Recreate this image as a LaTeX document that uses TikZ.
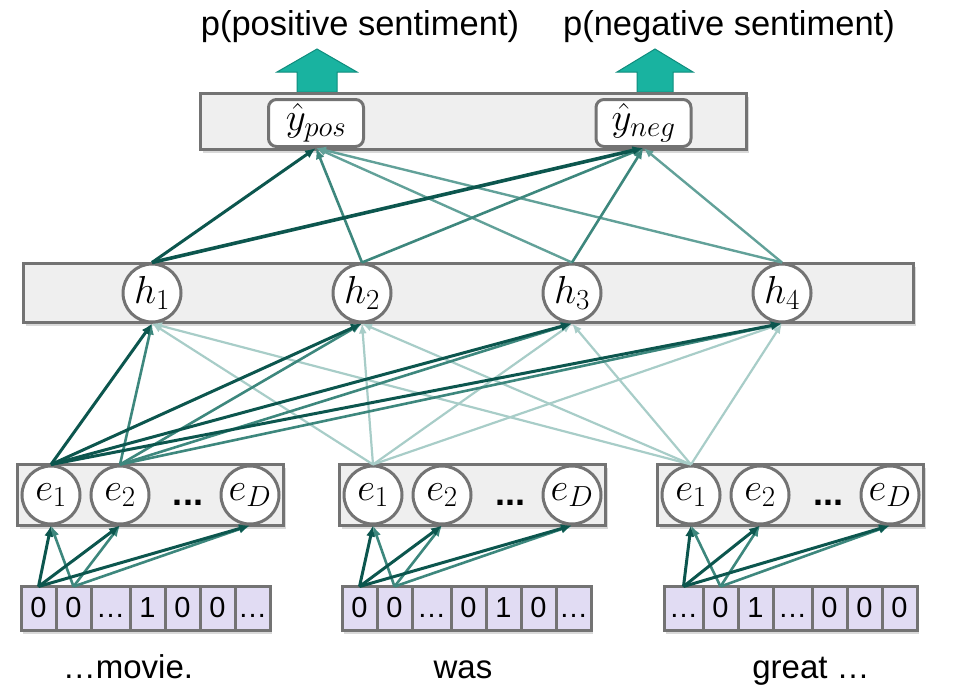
\RequirePackage{fix-cm}
\documentclass[tikz,border=0pt]{standalone}
\usepackage[no-math]{fontspec}
\setmainfont{Liberation Sans}
\usetikzlibrary{arrows.meta,shadows}

\definecolor{rim}{HTML}{737373}
\definecolor{panefill}{HTML}{EFEFEF}
\definecolor{cellfill}{HTML}{E1DCF3}
\definecolor{blockfill}{HTML}{19B3A0}
\definecolor{blockrim}{HTML}{0F8C7D}
\definecolor{wdark}{HTML}{0C564E}
\definecolor{wmid}{HTML}{3D877D}
\definecolor{wsoft}{HTML}{62A199}
\definecolor{wlight}{HTML}{A8CDC8}

\DeclareMathSizes{39}{39}{29}{22}
\newcommand\ttlfnt{\fontsize{34.5}{40}\selectfont}
\newcommand\wordfnt{\fontsize{33}{38}\selectfont}
\newcommand\cellfnt{\fontsize{29}{34}\selectfont}
\newcommand\mathfnt{\fontsize{39}{44}\selectfont}
\newcommand\dotfnt{\fontsize{36}{40}\selectfont\bfseries}

\begin{document}
\begin{tikzpicture}[x=1pt, y=-1pt,
    pane/.style={draw=rim, line width=3pt, fill=panefill, inner sep=0pt, outer sep=0pt,
        drop shadow={shadow xshift=2pt, shadow yshift=-3pt, opacity=0.3}},
    neuron/.style={circle, draw=rim, line width=3pt, fill=white, minimum size=58pt, inner sep=0pt, font=\mathfnt},
    outbox/.style={draw=rim, line width=3pt, fill=white, rounded corners=8pt, minimum width=95pt, minimum height=47pt, inner sep=0pt, font=\mathfnt},
    onehot/.style={draw=rim, line width=3pt, fill=cellfill, minimum width=35pt, minimum height=44pt, inner sep=0pt, outer sep=0pt,
        text height=20pt, text depth=3pt, font=\cellfnt,
        drop shadow={shadow xshift=2pt, shadow yshift=-3pt, opacity=0.3}},
    dotcell/.style={onehot, minimum width=39pt},
    blockup/.style={fill=blockfill, draw=blockrim, line width=1pt},
    wdk/.style={color=wdark, line width=3pt, -{Latex[length=11pt,width=9pt]}},
    wmd/.style={color=wmid, line width=2.6pt, -{Latex[length=11pt,width=9pt]}},
    wsf/.style={color=wsoft, line width=2.4pt, -{Latex[length=10pt,width=8pt]}},
    wlt/.style={color=wlight, line width=2.2pt, -{Latex[length=10pt,width=8pt]}}]

    \useasboundingbox (0,0) rectangle (960,688);

    % output layer
    \node [font=\ttlfnt, anchor=base] (ppos) at (360,35) {p(positive sentiment)};
    \node [font=\ttlfnt, anchor=base] (pneg) at (729,35) {p(negative sentiment)};
    \coordinate (apos) at (317,92);
    \coordinate (aneg) at (655,92);
    \draw [blockup] (apos) ++(-20,0) -- ++(0,-20) -- ++(-20,0) -- ++(40,-23) -- ++(40,23) -- ++(-20,0) -- ++(0,20) -- cycle;
    \draw [blockup] (aneg) ++(-18,0) -- ++(0,-20) -- ++(-20,0) -- ++(38,-23) -- ++(38,23) -- ++(-20,0) -- ++(0,20) -- cycle;
    \node [pane, minimum width=546pt, minimum height=56pt] (top) at (473.5,121.5) {};
    \node [outbox] (ypos) at (316,123) {$\hat{y}_{pos}$};
    \node [outbox] (yneg) at (643.5,123) {$\hat{y}_{neg}$};

    % hidden layer
    \node [pane, minimum width=890pt, minimum height=59pt] (hid) at (468.5,293) {};
    \node [neuron] (h1) at (152,293) {$h_1$};
    \node [neuron] (h2) at (362,293) {$h_2$};
    \node [neuron] (h3) at (572,293) {$h_3$};
    \node [neuron] (h4) at (782,293) {$h_4$};

    % embeddings
    \node [pane, minimum width=266pt, minimum height=61pt] (emba) at (150.5,495) {};
    \node [pane, minimum width=266pt, minimum height=61pt] (embb) at (472.5,495) {};
    \node [pane, minimum width=266pt, minimum height=61pt] (embc) at (790.5,495) {};
    \node [neuron] (e1a) at (51,495) {$e_1$};
    \node [neuron] (e2a) at (120,495) {$e_2$};
    \node [font=\dotfnt] (dota) at (188,503) {...};
    \node [neuron] (eDa) at (250,495) {$e_D$};
    \node [neuron] (e1b) at (373,495) {$e_1$};
    \node [neuron] (e2b) at (442,495) {$e_2$};
    \node [font=\dotfnt] (dotb) at (510,503) {...};
    \node [neuron] (eDb) at (572,495) {$e_D$};
    \node [neuron] (e1c) at (691,495) {$e_1$};
    \node [neuron] (e2c) at (760,495) {$e_2$};
    \node [font=\dotfnt] (dotc) at (828,503) {...};
    \node [neuron] (eDc) at (890,495) {$e_D$};

    % one-hot words
    \node [onehot] (m1) at (38.5,608.5) {0};
    \node [onehot] (m2) at (73.5,608.5) {0};
    \node [dotcell] (m3) at (110.5,608.5) {…};
    \node [onehot] (m4) at (147.5,608.5) {1};
    \node [onehot] (m5) at (182.5,608.5) {0};
    \node [onehot] (m6) at (217.5,608.5) {0};
    \node [onehot] (m7) at (252.5,608.5) {…};
    \node [onehot] (w1) at (359.5,608.5) {0};
    \node [onehot] (w2) at (394.5,608.5) {0};
    \node [dotcell] (w3) at (431.5,608.5) {…};
    \node [onehot] (w4) at (468.5,608.5) {0};
    \node [onehot] (w5) at (503.5,608.5) {1};
    \node [onehot] (w6) at (538.5,608.5) {0};
    \node [onehot] (w7) at (573.5,608.5) {…};
    \node [dotcell] (g1) at (683.5,608.5) {…};
    \node [onehot] (g2) at (720.5,608.5) {0};
    \node [onehot] (g3) at (755.5,608.5) {1};
    \node [dotcell] (g4) at (792.5,608.5) {…};
    \node [onehot] (g5) at (829.5,608.5) {0};
    \node [onehot] (g6) at (864.5,608.5) {0};
    \node [onehot] (g7) at (899.5,608.5) {0};
    \node [font=\wordfnt, anchor=base] (movie) at (128,678) {…movie.};
    \node [font=\wordfnt, anchor=base] (was) at (463,678) {was};
    \node [font=\wordfnt, anchor=base] (great) at (811,678) {great …};

    % weights
    \path [wlt] (e1b.north) edge (h1.south) edge (h2.south) edge (h3.south) edge (h4.south);
    \path [wlt] (e1c.north) edge (h1.south) edge (h2.south) edge (h3.south) edge (h4.south);
    \path [wmd] (e2a.north) edge (h1.south) edge (h2.south) edge (h3.south) edge (h4.south);
    \path [wdk] (e1a.north) edge (h1.south) edge (h2.south) edge (h3.south) edge (h4.south);
    \path [wsf] (h4.north) edge (ypos.south) edge (yneg.south);
    \path [wsf] (h3.north) edge (ypos.south);
    \path [wmd] (h3.north) edge (yneg.south);
    \path [wmd] (h2.north) edge (ypos.south) edge (yneg.south);
    \path [wdk] (h1.north) edge (ypos.south) edge [line width=3.6pt] (yneg.south);
    \path [wmd] (m2.north) edge (e1a.south) edge (e2a.south) edge (eDa.south);
    \path [wdk] (m1.north) edge (e1a.south) edge (e2a.south) edge (eDa.south);
    \path [wmd] (w2.north) edge (e1b.south) edge (e2b.south) edge (eDb.south);
    \path [wdk] (w1.north) edge (e1b.south) edge (e2b.south) edge (eDb.south);
    \path [wmd] (g2.north) edge (e1c.south) edge (e2c.south) edge (eDc.south);
    \path [wdk] (g1.north) edge (e1c.south) edge (e2c.south) edge (eDc.south);
\end{tikzpicture}
\end{document}
